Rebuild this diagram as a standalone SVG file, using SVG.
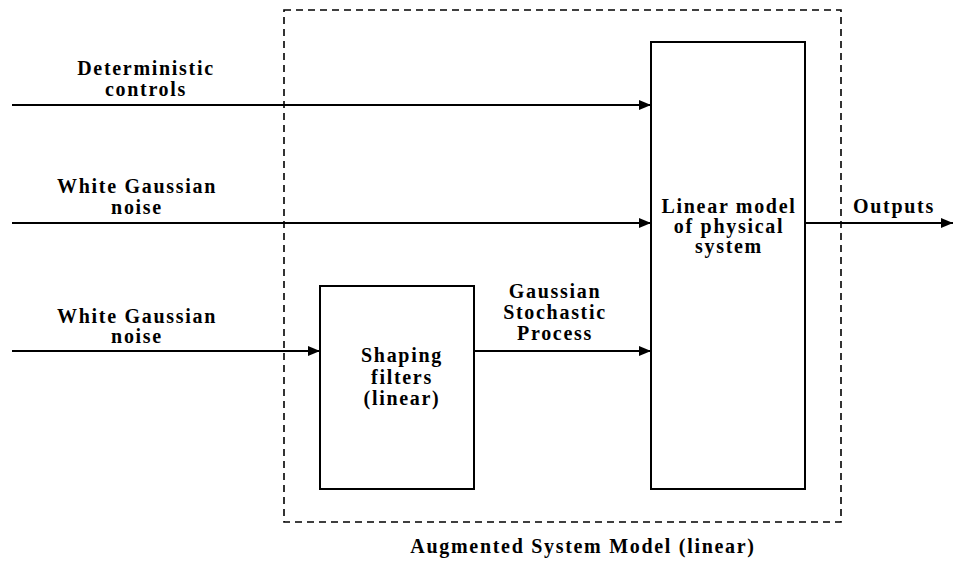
<svg xmlns="http://www.w3.org/2000/svg" width="953" height="561" viewBox="0 0 953 561">
<defs>
<marker id="arr" markerWidth="12" markerHeight="10" refX="12" refY="5" orient="auto" markerUnits="userSpaceOnUse">
<path d="M0,0 L12,5 L0,10 Z" fill="#000"/>
</marker>
<style>
text{font-family:"Liberation Serif","Times New Roman",serif;font-weight:bold;font-size:20px;letter-spacing:1.7px;fill:#000;text-anchor:middle}
.box{fill:#fff;stroke:#000;stroke-width:2}
.ln{stroke:#000;stroke-width:2;fill:none}
.dash{fill:none;stroke:#000;stroke-width:1.6;stroke-dasharray:7 5}
</style>
</defs>
<rect width="953" height="561" fill="#fff"/>
<g id="augmented">
<rect class="dash" x="284" y="10" width="557" height="512"/>
<text x="583" y="553">Augmented System Model (linear)</text>
</g>
<g id="connectors">
<line class="ln" x1="12" y1="105" x2="651" y2="105" marker-end="url(#arr)"/>
<line class="ln" x1="12" y1="223" x2="651" y2="223" marker-end="url(#arr)"/>
<line class="ln" x1="12" y1="351" x2="320" y2="351" marker-end="url(#arr)"/>
<line class="ln" x1="474" y1="351" x2="651" y2="351" marker-end="url(#arr)"/>
<line class="ln" x1="805" y1="223" x2="953" y2="223" marker-end="url(#arr)"/>
</g>
<g id="labels">
<text x="146" y="75">Deterministic</text>
<text x="146" y="96">controls</text>
<text x="137" y="193">White Gaussian</text>
<text x="137" y="214">noise</text>
<text x="137" y="323">White Gaussian</text>
<text x="137" y="343">noise</text>
<text x="555" y="298">Gaussian</text>
<text x="555" y="319">Stochastic</text>
<text x="555" y="340">Process</text>
<text x="894" y="213">Outputs</text>
</g>
<g id="linear-model">
<rect class="box" x="651" y="42" width="154" height="447"/>
<text x="729" y="213">Linear model</text>
<text x="729" y="233">of physical</text>
<text x="729" y="253">system</text>
</g>
<g id="shaping-filters">
<rect class="box" x="320" y="286" width="154" height="203"/>
<text x="402" y="362">Shaping</text>
<text x="402" y="384">filters</text>
<text x="402" y="405">(linear)</text>
</g>
</svg>
